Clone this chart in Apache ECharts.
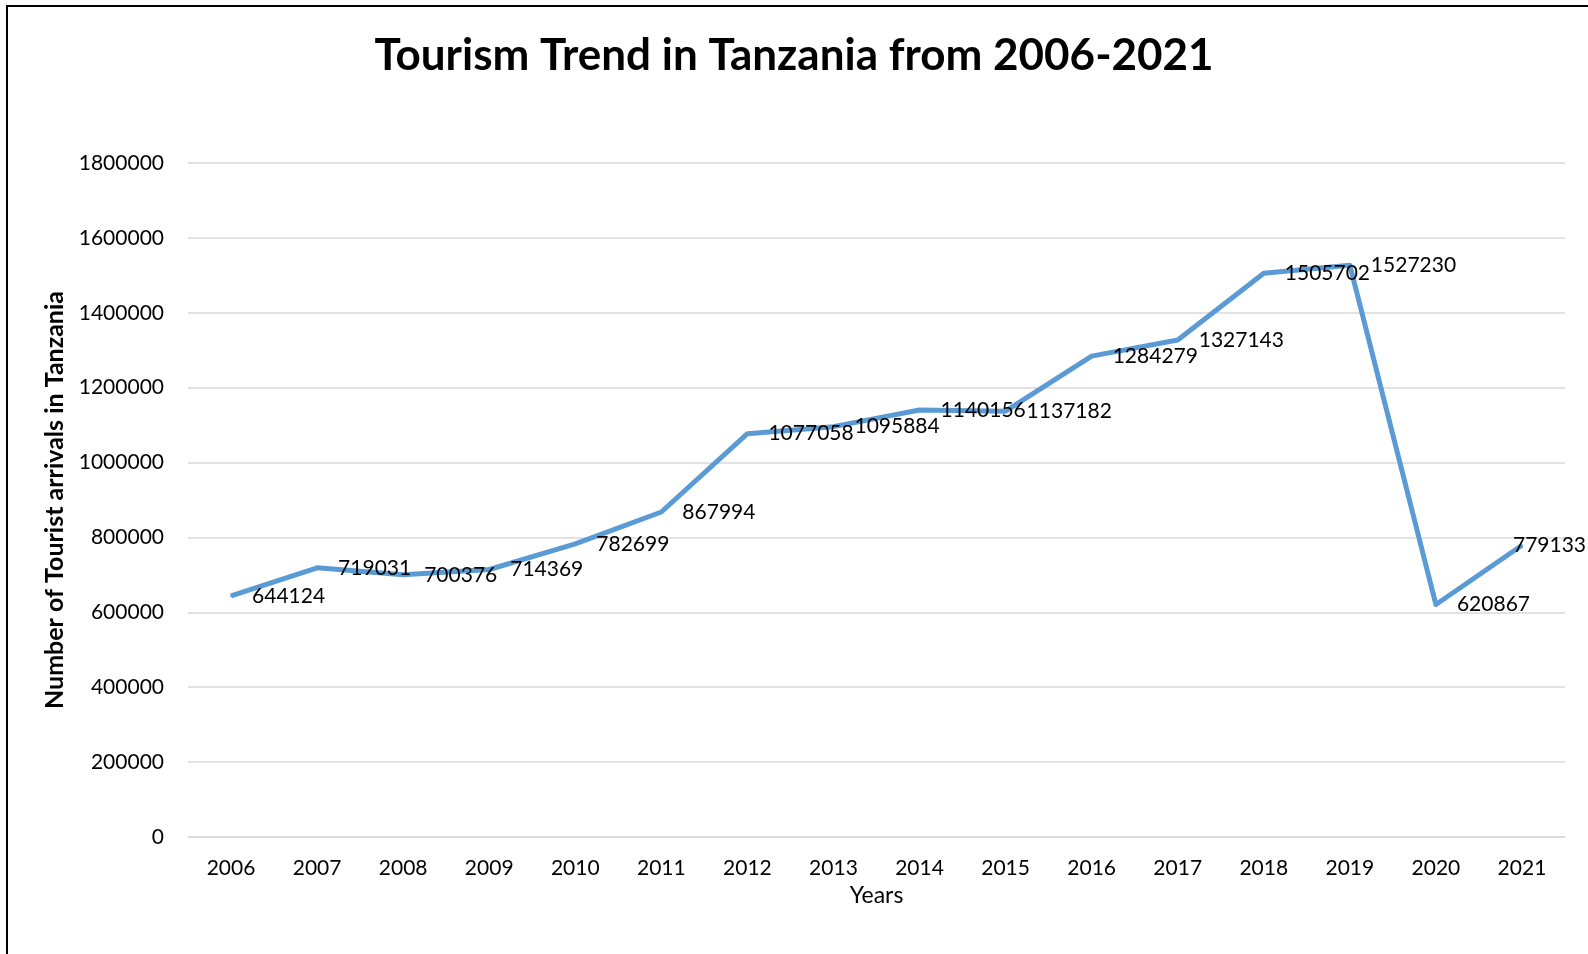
<!DOCTYPE html>
<html>
<head>
<meta charset="utf-8">
<style>
  html, body { margin: 0; padding: 0; background: #fff; }
  #chart { width: 1588px; height: 954px; }
</style>
<script src="https://cdn.jsdelivr.net/npm/echarts@6/dist/echarts.min.js"></script>
</head>
<body>
<div id="chart"></div>
<script>
// Tourist arrivals in Tanzania, by year
const years = ['2006','2007','2008','2009','2010','2011','2012','2013','2014','2015','2016','2017','2018','2019','2020','2021'];
const arrivals = [644124, 719031, 700376, 714369, 782699, 867994, 1077058, 1095884, 1140156, 1137182, 1284279, 1327143, 1505702, 1527230, 620867, 779133];

const FONT = 'Lato, "Open Sans", sans-serif';
const chart = echarts.init(document.getElementById('chart'), null, { renderer: 'canvas' });

// the last label is pulled back so it stays inside the frame
const seriesData = arrivals.map((v, i) => i === arrivals.length - 1
  ? { value: v, label: { offset: [-30, 0] } }
  : v);

chart.setOption({
  backgroundColor: '#ffffff',
  animation: false,
  title: {
    text: 'Tourism Trend in Tanzania from 2006-2021',
    left: 'center',
    top: 29,
    textStyle: { fontFamily: FONT, fontWeight: 'bold', fontSize: 44, color: '#000' }
  },
  grid: { left: 188, right: 23, top: 163, bottom: 117, containLabel: false },
  xAxis: {
    type: 'category',
    data: years,
    boundaryGap: true,
    name: 'Years',
    nameLocation: 'middle',
    nameGap: 44,
    nameTextStyle: { fontFamily: FONT, fontSize: 23, color: '#000' },
    axisLine: { show: true, lineStyle: { color: '#d9d9d9', width: 1.5 } },
    axisTick: { show: false },
    axisLabel: { fontFamily: FONT, fontSize: 21, color: '#000', margin: 21 }
  },
  yAxis: {
    type: 'value',
    min: 0,
    max: 1800000,
    interval: 200000,
    name: 'Number of Tourist arrivals in Tanzania',
    nameLocation: 'middle',
    nameGap: 115,
    nameRotate: 90,
    nameTextStyle: { fontFamily: FONT, fontWeight: 'bold', fontSize: 25, color: '#000' },
    axisLine: { show: false },
    axisTick: { show: false },
    axisLabel: { fontFamily: FONT, fontSize: 21, color: '#000', margin: 24, formatter: v => String(v) },
    splitLine: { lineStyle: { color: '#d9d9d9', width: 1.5 } }
  },
  series: [{
    type: 'line',
    data: seriesData,
    symbol: 'circle',
    symbolSize: 2,
    showSymbol: true,
    showAllSymbol: true,
    lineStyle: { color: '#5b9bd5', width: 5, join: 'round' },
    itemStyle: { color: '#5b9bd5' },
    label: {
      show: true,
      position: 'right',
      distance: 20,
      fontFamily: FONT,
      fontSize: 21,
      color: '#000',
      formatter: p => String(p.value)
    }
  }],
  graphic: [{
    type: 'rect',
    shape: { x: 7, y: 6, width: 1700, height: 1100 },
    style: { fill: 'none', stroke: '#000', lineWidth: 2 },
    silent: true,
    z: 100
  }]
});
</script>
</body>
</html>
